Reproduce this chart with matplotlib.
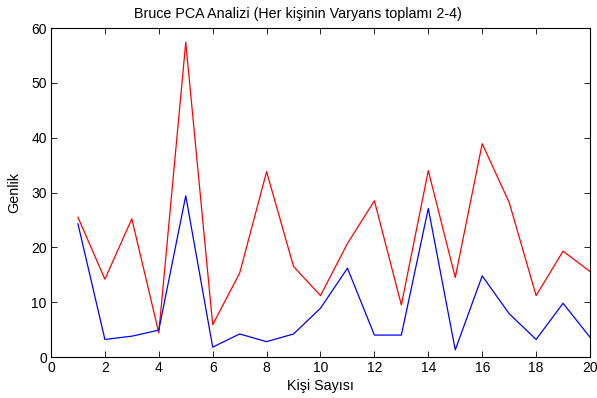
import matplotlib
matplotlib.use('Agg')
import matplotlib.pyplot as plt

# Kişi sayısı ve iki seri
kisi = list(range(1, 21))
kirmizi = [25.5, 14.2, 25.2, 4.4, 57.4, 5.9, 15.3, 33.8, 16.5, 11.2,
           20.7, 28.5, 9.5, 34.0, 14.5, 38.9, 28.2, 11.2, 19.3, 15.6]
mavi = [24.3, 3.2, 3.8, 4.9, 29.4, 1.8, 4.2, 2.8, 4.2, 8.9,
        16.2, 4.0, 4.0, 27.1, 1.3, 14.8, 7.9, 3.2, 9.8, 3.6]

xticks = list(range(0, 21, 2))
yticks = list(range(0, 61, 10))

plt.rcParams['font.family'] = ['Liberation Sans', 'DejaVu Sans']

fig = plt.figure(figsize=(5.97, 3.98), dpi=100)
ax = fig.add_axes([0.0854, 0.103, 0.9029, 0.8266])

ax.plot(kisi, kirmizi, color='#ff0000', linewidth=0.9)
ax.plot(kisi, mavi, color='#0000ff', linewidth=0.9)

ax.set_xlim(0, 20)
ax.set_ylim(0, 60)
ax.set_xticks(xticks)
ax.set_yticks(yticks)
ax.tick_params(direction='in', top=True, right=True, length=4, width=0.6,
               labelsize=10, pad=3)
for s in ax.spines.values():
    s.set_linewidth(0.8)

# başlık figürün ortasında duruyor, eksenin değil
ax.set_title("Bruce PCA Analizi (Her kişinin Varyans toplamı 2-4)",
             fontsize=10.3, pad=7, x=0.459)
ax.set_xlabel("Kişi Sayısı", fontsize=10.3, labelpad=3)
ax.set_ylabel("Genlik", fontsize=10.3, labelpad=7)

plt.savefig("out.png", dpi=100)
plt.close(fig)
